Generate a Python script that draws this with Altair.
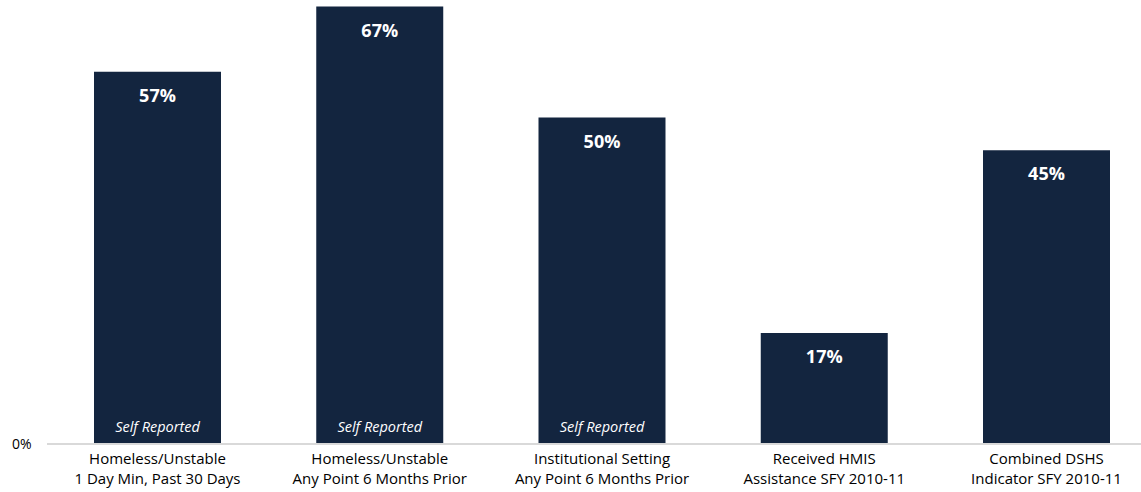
import altair as alt
import pandas as pd

categories = [
    "Homeless/Unstable|1 Day Min, Past 30 Days",
    "Homeless/Unstable|Any Point 6 Months Prior",
    "Institutional Setting|Any Point 6 Months Prior",
    "Received HMIS|Assistance SFY 2010-11",
    "Combined DSHS|Indicator SFY 2010-11",
]
values = [0.57, 0.67, 0.50, 0.17, 0.45]
notes = ["Self Reported", "Self Reported", "Self Reported", "", ""]

df = pd.DataFrame({"cat": categories, "val": values, "note": notes})

FONT = "Open Sans"
BAR = "#13253F"

x = alt.X(
    "cat:N",
    sort=categories,
    title=None,
    scale=alt.Scale(range=[47, 1063], paddingInner=0.4286, paddingOuter=0),
    axis=alt.Axis(
        labelExpr="split(datum.label, '|')",
        labelAngle=0,
        labelFont=FONT,
        labelFontSize=15,
        labelColor="#000000",
        labelLineHeight=20,
        labelPadding=7,
        ticks=False,
        domain=False,
        labelLimit=300,
    ),
)
y = alt.Y(
    "val:Q",
    title=None,
    scale=alt.Scale(domain=[0, 0.68], nice=False),
    axis=alt.Axis(
        values=[0],
        format="%",
        labelFont=FONT,
        labelFontSize=14,
        labelColor="#000000",
        labelPadding=16,
        ticks=False,
        domain=False,
        grid=False,
    ),
)

base = alt.Chart(df)
bars = base.mark_bar(color=BAR).encode(x=x, y=y)
baseline = base.mark_rule(color="#d9d9d9", strokeWidth=1.5).encode(
    x=alt.value(0), x2=alt.value(1094), y=alt.datum(0)
)
labels = base.mark_text(
    color="white", font=FONT, fontSize=18, fontWeight="bold", baseline="middle", dy=25
).encode(x=x, y=y, text=alt.Text("val:Q", format=".0%"))
note_txt = base.mark_text(
    color="white", font=FONT, fontSize=14.5, fontStyle="italic", baseline="middle"
).encode(x=x, y=alt.value(428), text="note:N")

chart = (
    alt.layer(bars, baseline, labels, note_txt)
    .properties(
        width=1094,
        height=444,
        autosize=alt.AutoSizeParams(type="none"),
        padding={"left": 47, "top": 0, "right": 0, "bottom": 48},
        background="white",
    )
    .configure_view(stroke=None)
)

chart.save("out.html", embed_options={"renderer": "svg", "actions": False})
